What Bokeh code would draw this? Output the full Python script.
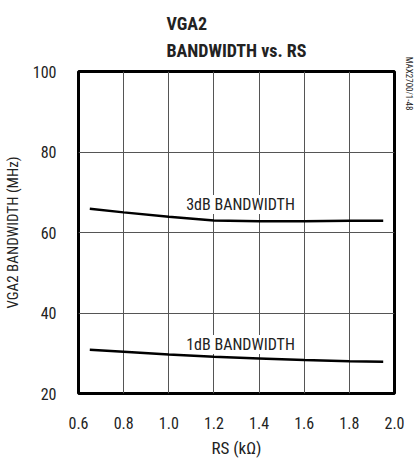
import math
from bokeh.plotting import figure
from bokeh.models import Label, FixedTicker, Range1d, LinearAxis
from bokeh.embed import file_html
from bokeh.resources import INLINE

# ---- data ----
rs_k = [0.65, 0.8, 1.0, 1.2, 1.4, 1.6, 1.8, 1.95]
bw_3db = [65.9, 65.0, 63.9, 63.0, 62.8, 62.8, 62.9, 62.9]
bw_1db = [30.9, 30.4, 29.7, 29.1, 28.7, 28.3, 28.0, 27.9]
x_ticks = [0.6, 0.8, 1.0, 1.2, 1.4, 1.6, 1.8, 2.0]
x_tick_labels = ["0.6", "0.8", "1.0", "1.2", "1.4", "1.6", "1.8", "2.0"]
y_ticks = [20, 40, 60, 80, 100]
y_tick_labels = ["20", "40", "60", "80", "100"]

FONT = "Roboto Condensed"
TXT = "#222222"

W, H = 416, 460
L, R, T, B = 74, 13, 71, 63   # frame: x 74..403, y 71..397

p = figure(width=W, height=H, output_backend="svg", toolbar_location=None,
           x_range=Range1d(0.6, 2.0), y_range=Range1d(20, 100),
           min_border_left=L, min_border_right=R, min_border_top=T, min_border_bottom=B)
p.background_fill_color = "white"
p.border_fill_color = "white"
p.outline_line_color = "black"
p.outline_line_width = 3

# two-line title
p.title.text = "VGA2\nBANDWIDTH vs. RS"
p.title.align = "center"
p.title.text_font = FONT
p.title.text_font_size = "18px"
p.title.text_font_style = "bold"
p.title.text_color = TXT
p.title.text_line_height = 1.25
p.title.standoff = 22

for ax in (p.xaxis, p.yaxis):
    ax.axis_line_color = None
    ax.major_tick_line_color = None
    ax.minor_tick_line_color = None
    ax.major_label_text_font = FONT
    ax.major_label_text_font_size = "16px"
    ax.major_label_text_color = TXT
    ax.axis_label_text_font = FONT
    ax.axis_label_text_font_style = "normal"
    ax.axis_label_text_color = TXT
p.xaxis.ticker = FixedTicker(ticks=x_ticks)
p.xaxis.major_label_overrides = {t: s for t, s in zip(x_ticks, x_tick_labels)}
p.yaxis.ticker = FixedTicker(ticks=y_ticks)
p.yaxis.major_label_overrides = {t: s for t, s in zip(y_ticks, y_tick_labels)}
p.xaxis.major_label_standoff = 17
p.yaxis.major_label_standoff = 16

p.xaxis.axis_label = "RS (kΩ)"
p.xaxis.axis_label_text_font_size = "17px"
p.xaxis.axis_label_standoff = 6
p.yaxis.axis_label = "VGA2 BANDWIDTH (MHz)"
p.yaxis.axis_label_text_font_size = "15px"
p.yaxis.axis_label_standoff = 8

# side note as a rotated label on a right-hand axis
note_axis = LinearAxis(ticker=FixedTicker(ticks=[97]),
                       major_label_overrides={97: "MAX2700/1-48"},
                       major_label_orientation="vertical",
                       major_label_standoff=3,
                       major_label_text_font=FONT,
                       major_label_text_font_size="9px",
                       major_label_text_color=TXT,
                       axis_line_color=None,
                       major_tick_line_color=None,
                       minor_tick_line_color=None)
p.add_layout(note_axis, "right")

p.xgrid.grid_line_color = "#555555"
p.ygrid.grid_line_color = "#555555"
p.xgrid.grid_line_width = 1
p.ygrid.grid_line_width = 1

p.line(rs_k, bw_3db, line_color="black", line_width=2.5)
p.line(rs_k, bw_1db, line_color="black", line_width=2.5)

def lab(text, px, py, size):
    # canvas units: pixels from the canvas's top-left corner (inside the frame)
    p.add_layout(Label(x=px, y=py, x_units="canvas", y_units="canvas", text=text,
                       text_font=FONT, text_font_size=f"{size}px", text_color=TXT,
                       text_align="center", text_baseline="middle",
                       background_fill_color="white"))

# curve labels
lab("3dB BANDWIDTH", 240, 204, 16)
lab("1dB BANDWIDTH", 240, 344, 16)

open("out.html", "w").write(file_html(p, INLINE))
